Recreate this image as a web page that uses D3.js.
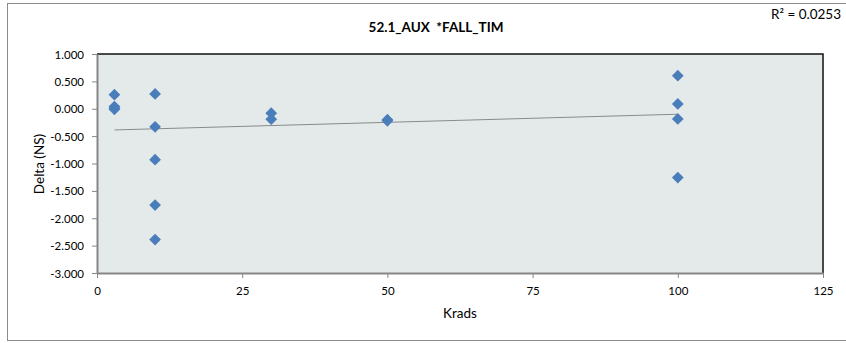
<!DOCTYPE html>
<html><head><meta charset="utf-8">
<script src="https://cdn.jsdelivr.net/npm/d3@7"></script>
<style>
html,body{margin:0;padding:0;background:#fff;}
svg{display:block;font-family:Lato,"Open Sans",sans-serif;}
text{white-space:pre;}
</style></head><body>
<svg id="c" width="846" height="343"></svg>
<script>
const title = "52.1_AUX  *FALL_TIM";
const xLabel = "Krads";
const yLabel = "Delta (NS)";
const r2Label = "R² = 0.0253";
const krads = [3, 3, 3, 3, 10, 10, 10, 10, 10, 30, 30, 50, 50, 100, 100, 100, 100];
const delta = [0.256, 0.04, 0.01, -0.01, 0.27, -0.33, -0.93, -1.76, -2.39, -0.08, -0.19, -0.20, -0.22, 0.604, 0.088, -0.186, -1.257];
const trendX = [3, 100];
const trendY = [-0.387, -0.10];
const xTicks = [0, 25, 50, 75, 100, 125];
const yTicks = [1, 0.5, 0, -0.5, -1, -1.5, -2, -2.5, -3];

const svg = d3.select("#c");
const L = 97, R = 823, T = 54, B = 273;
const x = d3.scaleLinear().domain([0, 125]).range([L, R]);
const y = d3.scaleLinear().domain([-3, 1]).range([B, T]);

// outer border
svg.append("rect").attr("x", 7.5).attr("y", 3.5).attr("width", 850).attr("height", 337)
  .attr("fill", "#fff").attr("stroke", "#8c8c8c").attr("stroke-width", 1);

// plot area
svg.append("rect").attr("x", L).attr("y", T).attr("width", R - L).attr("height", B - T)
  .attr("fill", "#e4eaea");
// top & right border dark
svg.append("path").attr("d", `M${L},${T}H${R}V${B}`).attr("fill", "none")
  .attr("stroke", "#111").attr("stroke-width", 1.5);

// axes
const xAxis = d3.axisBottom(x).tickValues(xTicks).tickSize(5).tickSizeOuter(0).tickFormat(d3.format("d"));
const yAxis = d3.axisLeft(y).tickValues(yTicks).tickSize(5).tickSizeOuter(0).tickFormat(d3.format(".3f"));
const gx = svg.append("g").attr("transform", `translate(0,${B})`).call(xAxis);
const gy = svg.append("g").attr("transform", `translate(${L},0)`).call(yAxis);
[gx, gy].forEach(g => {
  g.select(".domain").attr("stroke", "#868686").attr("stroke-width", 2);
  g.selectAll(".tick line").attr("stroke", "#868686");
  g.selectAll(".tick text").attr("font-family", "Lato, sans-serif").attr("font-size", 11.5).attr("fill", "#000");
});
gx.selectAll(".tick text").attr("dy", "1.25em");
gy.selectAll(".tick text").attr("x", -13).attr("dy", "0.35em");
gy.selectAll(".tick text").text(d => d3.format(".3f")(d).replace("−", "-"));

// trend line
svg.append("path")
  .datum(trendX.map((d, i) => [d, trendY[i]]))
  .attr("d", d3.line().x(d => x(d[0])).y(d => y(d[1])))
  .attr("fill", "none").attr("stroke", "#8a8a8a").attr("stroke-width", 1);

// points
const sym = d3.symbol().type(d3.symbolDiamond2).size(88);
svg.append("g").selectAll("path").data(krads.map((d, i) => [d, delta[i]])).join("path")
  .attr("transform", d => `translate(${x(d[0])},${y(d[1])})`)
  .attr("d", sym).attr("fill", "#4a7ebb");

// texts
svg.append("text").attr("x", 436).attr("y", 32).attr("text-anchor", "middle")
  .attr("font-size", 13.5).attr("font-weight", "bold").text(title);
svg.append("text").attr("x", 460).attr("y", 318).attr("text-anchor", "middle")
  .attr("font-size", 13.5).text(xLabel);
svg.append("text").attr("transform", "translate(44,164) rotate(-90)").attr("text-anchor", "middle")
  .attr("font-size", 13.5).text(yLabel);
svg.append("text").attr("x", 841).attr("y", 19).attr("text-anchor", "end")
  .attr("font-size", 13.5).text(r2Label);
</script>
</body></html>
